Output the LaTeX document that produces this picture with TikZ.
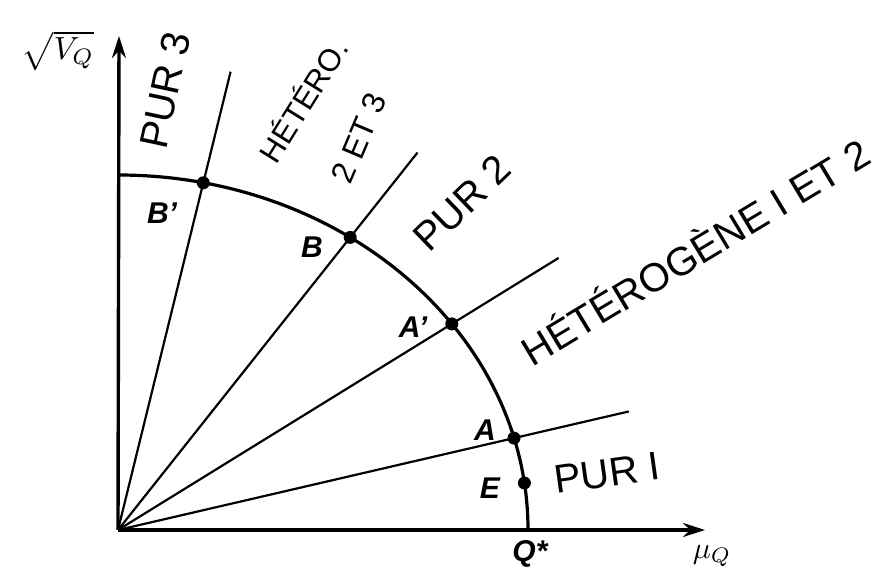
\documentclass[tikz,border=0pt]{standalone}
\usepackage{fontspec}
\setsansfont{Liberation Sans}
\usetikzlibrary{arrows.meta,calc}
\begin{document}
\begin{tikzpicture}[x=1pt,y=1pt,
    axe/.style={line width=3.4pt},
    rayon/.style={line width=2.2pt},
    courbe/.style={line width=3.2pt},
    lettre/.style={font=\sffamily\bfseries\itshape\fontsize{30}{32}\selectfont, inner sep=0pt},
    zone/.style={font=\sffamily\fontsize{40}{44}\selectfont, inner sep=0pt}]

    \useasboundingbox (0,0) rectangle (887,578);

    % ========== axes ==========
    \coordinate (O) at (118,48);
    \coordinate (haut) at (119,542);
    \coordinate (droite) at (705,48);
    \draw[axe, -{Stealth[length=22pt,width=14pt]}] (O) -- (haut);
    \draw[axe, -{Stealth[length=22pt,width=14pt]}] (O) -- (droite);
    \node[inner sep=0pt] (vq) at (58,527) {\scalebox{3.2}{$\sqrt{V_Q}$}};
    \node[inner sep=0pt] (muq) at (712,22) {\scalebox{3}{$\mu_Q$}};

    % ========== la courbe ==========
    \coordinate (top) at (118,403);
    \coordinate (Qs) at (528,48);
    \draw[courbe] (top) arc[start angle=90, end angle=0, x radius=410, y radius=355];

    % points sur la courbe
    \coordinate (Bp) at (203.3,395.2);
    \coordinate (B)  at (350.2,340.6);
    \coordinate (Ap) at (451.8,254.1);
    \coordinate (A)  at (514.0,139.9);
    \coordinate (E)  at (524.4,95.0);

    % ========== rayons ==========
    \coordinate (finBp) at ($(O)!1.32!(Bp)$);
    \coordinate (finB)  at ($(O)!1.29!(B)$);
    \coordinate (finAp) at ($(O)!1.32!(Ap)$);
    \coordinate (finA)  at ($(O)!1.29!(A)$);
    \draw[rayon] (O) -- (finBp);
    \draw[rayon] (O) -- (finB);
    \draw[rayon] (O) -- (finAp);
    \draw[rayon] (O) -- (finA);

    \foreach \p in {Bp,B,Ap,A,E}
      \fill (\p) circle[radius=6.5pt];

    % noms des points
    \node[lettre] (lBp) at (162,365) {B'};
    \node[lettre] (lB)  at (312,331) {B};
    \node[lettre] (lAp) at (413,251) {A'};
    \node[lettre] (lA)  at (485,148) {A};
    \node[lettre] (lE)  at (490,90)  {E};
    \node[lettre] (lQ)  at (530,24)  {Q*};

    % ========== zones ==========
    \node[zone, rotate=78] (pur3) at (165,488) {PUR 3};
    \node[zone, rotate=58, font=\sffamily\fontsize{31}{34}\selectfont] (het23a) at (302,478) {HÉTÉRO.};
    \node[zone, rotate=67, font=\sffamily\fontsize{32}{34}\selectfont] (het23b) at (359,440) {2 ET 3};
    \node[zone, rotate=44] (pur2) at (462,375) {PUR 2};
    \node[zone, rotate=31, font=\sffamily\fontsize{40}{44}\selectfont] (het12) at (694,328) {HÉTÉROGÈNE I ET 2};
    \node[zone, rotate=8] (pur1) at (607,105) {PUR I};

\end{tikzpicture}
\end{document}
